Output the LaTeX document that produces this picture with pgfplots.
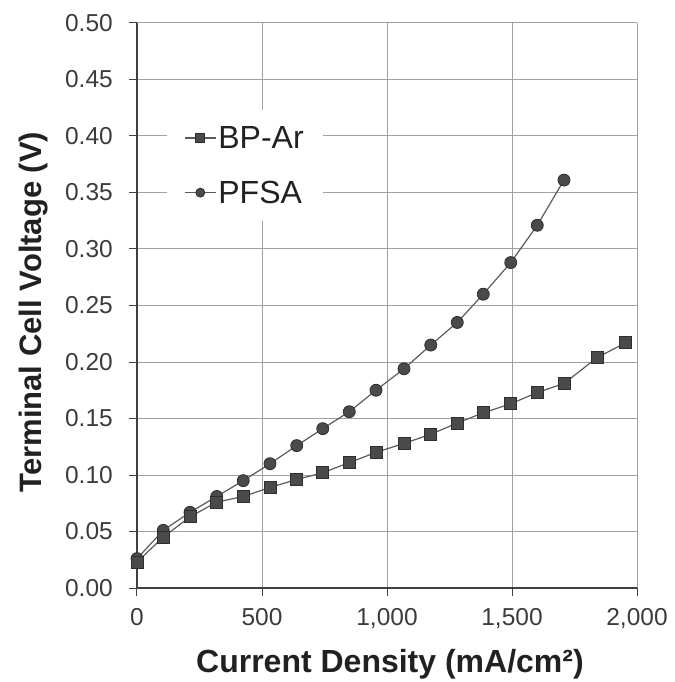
\documentclass[border=0pt]{standalone}
\usepackage{pgfplots}
\pgfplotsset{compat=1.18}
\usepackage{fontspec}
\setmainfont{Liberation Sans}
\definecolor{gridc}{HTML}{A0A0A0}
\definecolor{spinec}{HTML}{404040}
\definecolor{linec}{HTML}{5A5A5A}
\definecolor{markf}{HTML}{4A4A4A}
\definecolor{markd}{HTML}{2E2E2E}
\definecolor{tickc}{HTML}{3C3C3C}
\begin{document}
\begin{tikzpicture}
\useasboundingbox (-137pt,-94pt) rectangle (537pt,588pt);
\begin{axis}[
  at={(0pt,0pt)}, anchor=south west,
  scale only axis, width=500pt, height=565pt,
  xmin=0, xmax=2000, ymin=0, ymax=0.5,
  xtick={0,500,1000,1500,2000},
  ytick={0,0.05,0.1,0.15,0.2,0.25,0.3,0.35,0.4,0.45,0.5},
  axis lines=left,
  axis line style={-, draw=spinec, line width=1.2pt},
  tick align=outside,
  major tick length=8pt,
  tick style={draw=spinec, line width=1pt},
  grid=major,
  major grid style={draw=gridc, line width=1pt},
  clip=false,
  /pgf/number format/assume math mode=true,
  xticklabel style={/pgf/number format/1000 sep={,}, font=\fontsize{24.5}{28}\selectfont, text=tickc, inner sep=0pt, anchor=north, yshift=-12pt},
  yticklabel style={/pgf/number format/fixed, /pgf/number format/fixed zerofill, /pgf/number format/precision=2, font=\fontsize{24.5}{28}\selectfont, text=tickc, inner sep=0pt, anchor=east, xshift=-16pt},
  scaled y ticks=false, scaled x ticks=false,
  xlabel={Current Density (mA/cm²)},
  ylabel={Terminal Cell Voltage (V)},
  xlabel style={font=\fontsize{32}{36}\selectfont\bfseries, text=black!87, at={(axis description cs:0.506,-0.1487)}, anchor=base},
  ylabel style={font=\fontsize{31}{36}\selectfont\bfseries, text=black!87, at={(axis description cs:-0.19,0.4885)}, anchor=base},
  legend cell align=left,
  reverse legend,
  legend style={at={(axis description cs:0.06,0.846)}, anchor=north west, draw=none, fill=white,
    font=\fontsize{32}{36}\selectfont, text=black!87, inner xsep=17pt, inner ysep=14pt, row sep=27pt,
    nodes={inner sep=2pt}},
  legend image code/.code={\draw[#1, mark repeat=2, mark phase=2, mark size=4.5pt] plot coordinates {(0pt,0pt) (15.5pt,0pt) (31pt,0pt)};},
]
\addplot[draw=linec, line width=1.2pt, mark=*, mark size=6pt, mark options={fill=markf, draw=markd, line width=0.8pt}] coordinates {
(0,0.026) (105,0.051) (212,0.067) (319,0.081) (425,0.095) (532,0.110) (639,0.126) (743,0.141) (849,0.156) (956,0.175) (1068,0.194) (1175,0.215) (1281,0.235) (1385,0.260) (1495,0.288) (1601,0.321) (1708,0.361)
};
\addlegendentry{PFSA}
\addplot[draw=linec, line width=1.2pt, mark=square*, mark size=6pt, mark options={fill=markf, draw=markd, line width=0.8pt}] coordinates {
(0,0.023) (105,0.045) (212,0.063) (319,0.076) (425,0.081) (532,0.089) (639,0.096) (743,0.102) (849,0.111) (956,0.120) (1068,0.128) (1175,0.136) (1281,0.146) (1385,0.155) (1495,0.163) (1601,0.173) (1708,0.181) (1841,0.204) (1955,0.217)
};
\addlegendentry{BP-Ar}
\end{axis}
\end{tikzpicture}
\end{document}
